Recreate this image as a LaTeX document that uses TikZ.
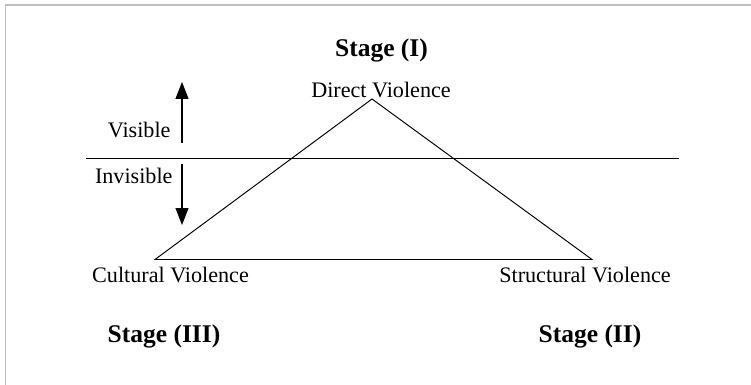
\documentclass[tikz,border=0pt]{standalone}
\usepackage{fontspec}
\setmainfont{Liberation Serif}
\usetikzlibrary{arrows.meta}
\begin{document}
\begin{tikzpicture}[x=0.02cm, y=-0.02cm, line width=0.55pt]
	\tikzstyle{tag}     = [inner sep=0pt, anchor=base, font=\fontsize{12.6}{14}\selectfont]
	\tikzstyle{stage}   = [inner sep=0pt, anchor=base, font=\fontsize{14.5}{17}\selectfont\bfseries]
	\tikzstyle{pointer} = [-{Triangle[length=0.34cm, width=0.26cm]}, line width=0.6pt]

	\useasboundingbox (0,0) rectangle (751,385);
	\draw[black!25, line width=1pt] (5.5,385) -- (5.5,4.7) -- (751,4.7);

	% corners of the triangle and ends of the line
	\foreach \name/\x/\y in {top/372/99, cult/155/259.5, struc/592/259.5, wl/86/158.5, wr/679/158.5, vs/182/143, vt/182/82, is/182/164, it/182/225}
		\coordinate (\name) at (\x, \y);

	\draw (top) -- (cult) -- (struc) -- cycle;
	\draw[line width=0.75pt] (wl) -- (wr);
	\draw[pointer] (vs) -- (vt);
	\draw[pointer] (is) -- (it);

	\foreach \name/\x/\y/\text in {direct/381/98/Direct Violence, cultural/170.5/282/Cultural Violence, structural/585/282/Structural Violence}
		\node[tag] (\name) at (\x, \y) {\text};
	\node[tag, anchor=base east] (visible) at (171,138) {Visible};
	\node[tag, anchor=base east] (invisible) at (173,184) {Invisible};

	\foreach \name/\x/\y/\text in {one/381.5/57/Stage (I), three/164/342/Stage (III), two/590/342/Stage (II)}
		\node[stage] (\name) at (\x, \y) {\text};

\end{tikzpicture}
\end{document}
